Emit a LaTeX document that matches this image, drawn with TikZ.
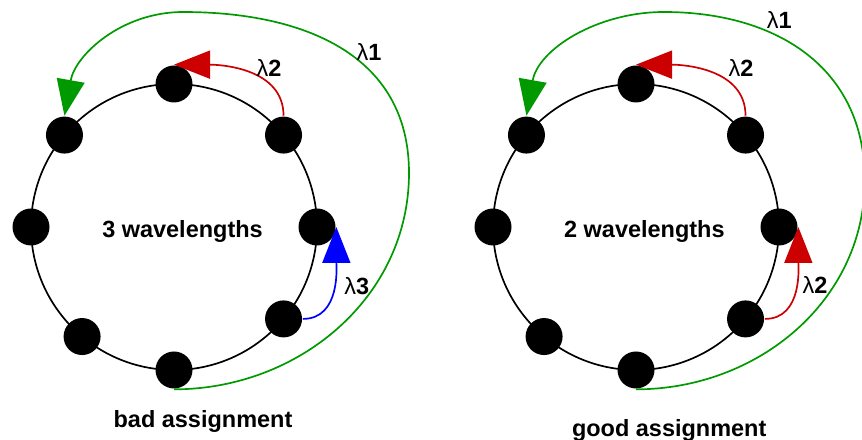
\documentclass[tikz,border=0pt]{standalone}
\usepackage{fontspec}
\setmainfont{Liberation Sans}
\usetikzlibrary{arrows.meta}
\definecolor{lgreen}{HTML}{009900}
\definecolor{lred}{HTML}{CC0000}
\definecolor{lblue}{HTML}{0000FF}
\tikzset{
  every picture/.style={font=\fontsize{16.7}{20}\selectfont\bfseries, line width=1.2pt},
  ring/.style={circle, draw, minimum size=7.15cm, inner sep=0pt, outer sep=0pt},
  station/.style={circle, fill=black, minimum size=0.925cm, inner sep=0pt},
  lpath/.style={-{Triangle[length=0.9cm, width=0.7cm]}, draw=#1, line width=1.2pt},
  lpath/.default=lgreen,
  lam/.style={anchor=base, inner sep=0pt},
  caption/.style={anchor=base, inner sep=0pt},
}
\newcommand{\wl}[1]{{\mdseries λ}#1}

\begin{document}
\begin{tikzpicture}
  \useasboundingbox (0,0) rectangle (21.55,11);
  % left ring: bad assignment
  \node[ring] (ringL) at (4.35,5.325) {};
  \node[ring] (ringR) at (15.9,5.325) {};
  \foreach \i/\a in {1/90, 2/40, 3/0, 4/-40, 5/-90, 6/230, 7/180, 8/140} {
    \node[station] (a\i) at (ringL.\a) {};
    \node[station] (b\i) at (ringR.\a) {};
  }
  \node[caption] (txtL) at (4.5625,5.05) {3 wavelengths};
  \node[caption] (capL) at (5.075,0.3) {bad assignment};
  \coordinate (l1r) at (10.225,6.675);
  \coordinate (l1t) at (4.575,10.7);
  \draw[lpath] (a5.south) to[out=0, in=-90] (l1r) to[out=90, in=0, looseness=1.1] (l1t) to[out=180, in=80] (a8.north);
  \draw[lpath=lred] (a2.north) to[out=90, in=0] (a1.north);
  \draw[lpath=lblue] (a4.east) to[out=0, in=-90] (a3.east);
  \node[lam] (lamL1) at (9.225,9.475) {\wl{1}};
  \node[lam] (lamL2) at (6.725,9.083) {\wl{2}};
  \node[lam] (lamL3) at (8.917,3.625) {\wl{3}};
  % right ring: good assignment
  \node[caption] (txtR) at (16.11,5.05) {2 wavelengths};
  \node[caption] (capR) at (16.73,0.075) {good assignment};
  \coordinate (r1r) at (21.62,6.5);
  \coordinate (r1t) at (16.6,10.7);
  \draw[lpath] (b5.south) to[out=0, in=-90] (r1r) to[out=90, in=0, looseness=1.1] (r1t) to[out=180, in=80] (b8.north);
  \draw[lpath=lred] (b2.north) to[out=90, in=0] (b1.north);
  \draw[lpath=lred] (b4.east) to[out=0, in=-90] (b3.east);
  \node[lam] (lamR1) at (19.48,10.29) {\wl{1}};
  \node[lam] (lamR2) at (18.525,9.083) {\wl{2}};
  \node[lam] (lamR3) at (20.375,3.667) {\wl{2}};
\end{tikzpicture}
\end{document}
